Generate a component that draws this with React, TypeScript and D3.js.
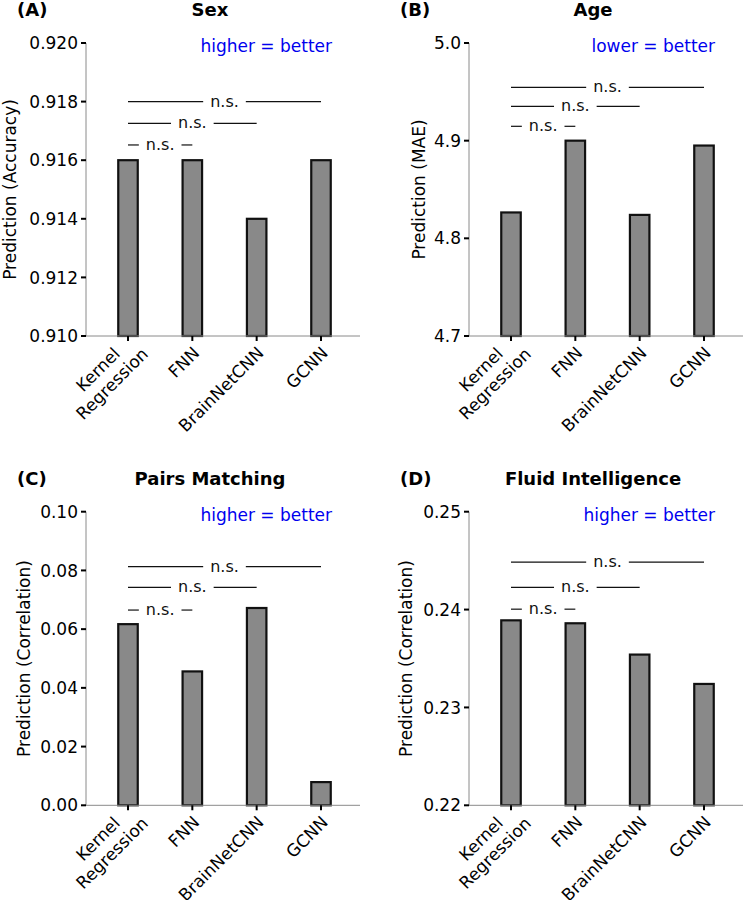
import React from 'react';
import * as d3 from 'd3';

// ---------- data ----------
const categories = ['Kernel\nRegression', 'FNN', 'BrainNetCNN', 'GCNN'];

const sexValues = [0.916, 0.916, 0.914, 0.916];
const ageValues = [4.8265, 4.9, 4.824, 4.895];
const pairsValues = [0.0617, 0.0456, 0.0672, 0.0079];
const fluidValues = [0.2389, 0.2386, 0.2354, 0.2324];

const sexTicks = [0.91, 0.912, 0.914, 0.916, 0.918, 0.92];
const ageTicks = [4.7, 4.8, 4.9, 5.0];
const pairsTicks = [0, 0.02, 0.04, 0.06, 0.08, 0.1];
const fluidTicks = [0.22, 0.23, 0.24, 0.25];

// bracket heights (data units) for comparisons of Kernel Regression vs FNN, BrainNetCNN, GCNN
const sexBrackets = [0.91652, 0.91726, 0.918];
const ageBrackets = [4.9147, 4.9352, 4.9546];
const pairsBrackets = [0.0665, 0.0742, 0.0813];
const fluidBrackets = [0.24004, 0.24226, 0.24485];

const bracketLabels = ['n.s.', 'n.s.', 'n.s.'];

const FONT = "'DejaVu Sans', Verdana, sans-serif";

let _ctx: CanvasRenderingContext2D | null = null;
function measure(text: string, size: number, weight = 'normal') {
  if (!_ctx) {
    const c = document.createElement('canvas');
    _ctx = c.getContext('2d');
  }
  if (!_ctx) return text.length * size * 0.6;
  _ctx.font = `${weight} ${size}px 'DejaVu Sans'`;
  return _ctx.measureText(text).width;
}

type PanelCfg = {
  letter: string;
  title: string;
  note: string;
  yLabel: string;
  values: number[];
  ticks: number[];
  fmt: string;
  brackets: number[];
  axisX: number;
  top: number;
  bottom: number;
  yLabelX: number;
  headY: number;
  letterX: number;
};

const panels: PanelCfg[] = [
  { letter: '(A)', title: 'Sex', note: 'higher = better', yLabel: 'Prediction (Accuracy)', values: sexValues, ticks: sexTicks, fmt: '.3f', brackets: sexBrackets, axisX: 86, top: 43, bottom: 336, yLabelX: 16, headY: 16, letterX: 17 },
  { letter: '(B)', title: 'Age', note: 'lower = better', yLabel: 'Prediction (MAE)', values: ageValues, ticks: ageTicks, fmt: '.1f', brackets: ageBrackets, axisX: 469, top: 43, bottom: 336, yLabelX: 425, headY: 16, letterX: 400 },
  { letter: '(C)', title: 'Pairs Matching', note: 'higher = better', yLabel: 'Prediction (Correlation)', values: pairsValues, ticks: pairsTicks, fmt: '.2f', brackets: pairsBrackets, axisX: 86, top: 511.7, bottom: 805.3, yLabelX: 30, headY: 485, letterX: 17 },
  { letter: '(D)', title: 'Fluid Intelligence', note: 'higher = better', yLabel: 'Prediction (Correlation)', values: fluidValues, ticks: fluidTicks, fmt: '.2f', brackets: fluidBrackets, axisX: 469, top: 511.7, bottom: 805.3, yLabelX: 412, headY: 485, letterX: 400 },
];

function Panel({ p }: { p: PanelCfg }) {
  const axisLen = 274;
  const x = d3.scalePoint<string>().domain(categories).range([p.axisX + 42, p.axisX + 235]);
  const y = d3
    .scaleLinear()
    .domain([p.ticks[0], p.ticks[p.ticks.length - 1]])
    .range([p.bottom, p.top]);
  const fmt = d3.format(p.fmt);
  const barW = 19.5;
  const tickSize = 17;
  const nsSize = 16;
  const lineH = 20;

  return (
    <g fontFamily={FONT}>
      {/* header */}
      <text x={p.letterX} y={p.headY} fontSize={18} fontWeight="bold" fill="#000">
        {p.letter}
      </text>
      <text x={p.axisX + 124} y={p.headY} fontSize={18} fontWeight="bold" textAnchor="middle" fill="#000">
        {p.title}
      </text>
      <text x={p.axisX + 246} y={p.top + 9} fontSize={17} textAnchor="end" fill="#0000ee">
        {p.note}
      </text>

      {/* y label */}
      <text
        transform={`translate(${p.yLabelX},${(p.top + p.bottom) / 2}) rotate(-90)`}
        fontSize={17}
        textAnchor="middle"
        fill="#000"
      >
        {p.yLabel}
      </text>

      {/* bars */}
      {categories.map((c, i) => {
        const cx = x(c) as number;
        return (
          <rect
            key={c}
            x={cx - barW / 2}
            y={y(p.values[i])}
            width={barW}
            height={p.bottom - y(p.values[i])}
            fill="#898989"
            stroke="#111"
            strokeWidth={2.2}
          />
        );
      })}

      {/* axes */}
      <line x1={p.axisX} x2={p.axisX} y1={p.top} y2={p.bottom} stroke="#8a8a8a" strokeWidth={1} />
      <line x1={p.axisX} x2={p.axisX + axisLen} y1={p.bottom} y2={p.bottom} stroke="#8a8a8a" strokeWidth={1} />
      {p.ticks.map((t) => (
        <g key={t}>
          <line x1={p.axisX - 5} x2={p.axisX} y1={y(t)} y2={y(t)} stroke="#000" strokeWidth={2} />
          <text x={p.axisX - 8} y={y(t)} dy="0.36em" fontSize={tickSize} textAnchor="end" fill="#000">
            {fmt(t)}
          </text>
        </g>
      ))}
      {categories.map((c) => {
        const cx = x(c) as number;
        const lines = c.split('\n');
        const widths = lines.map((l) => measure(l, tickSize));
        const maxW = Math.max(...widths);
        const n = lines.length;
        const blockEnd = -7 + 8.5 * (n - 1);
        return (
          <g key={c}>
            <line x1={cx} x2={cx} y1={p.bottom} y2={p.bottom + 5} stroke="#000" strokeWidth={2} />
            <g transform={`translate(${cx},${p.bottom}) rotate(-45)`}>
              {lines.map((l, j) => (
                <text
                  key={l}
                  x={blockEnd - (maxW - widths[j]) / 2}
                  y={18.4 + (j - (n - 1) / 2) * lineH}
                  fontSize={tickSize}
                  textAnchor="end"
                  fill="#000"
                >
                  {l}
                </text>
              ))}
            </g>
          </g>
        );
      })}

      {/* significance brackets */}
      {p.brackets.map((b, k) => {
        const x0 = x(categories[0]) as number;
        const x1 = x(categories[k + 1]) as number;
        const mid = (x0 + x1) / 2;
        const w = measure(bracketLabels[k], nsSize);
        const gap = 7;
        const yy = y(b);
        return (
          <g key={k}>
            <line x1={x0} x2={mid - w / 2 - gap} y1={yy} y2={yy} stroke="#111" strokeWidth={1.2} />
            <line x1={mid + w / 2 + gap} x2={x1} y1={yy} y2={yy} stroke="#111" strokeWidth={1.2} />
            <text x={mid} y={yy + 5} fontSize={nsSize} textAnchor="middle" fill="#111">
              {bracketLabels[k]}
            </text>
          </g>
        );
      })}
    </g>
  );
}

export default function App() {
  return (
    <svg
      width={744}
      height={900}
      viewBox="0 0 744 900"
      style={{ position: 'absolute', left: 0, top: 0, display: 'block', background: '#fff' }}
    >
      <rect width={744} height={900} fill="#fff" />
      {panels.map((p) => (
        <Panel key={p.letter} p={p} />
      ))}
    </svg>
  );
}
